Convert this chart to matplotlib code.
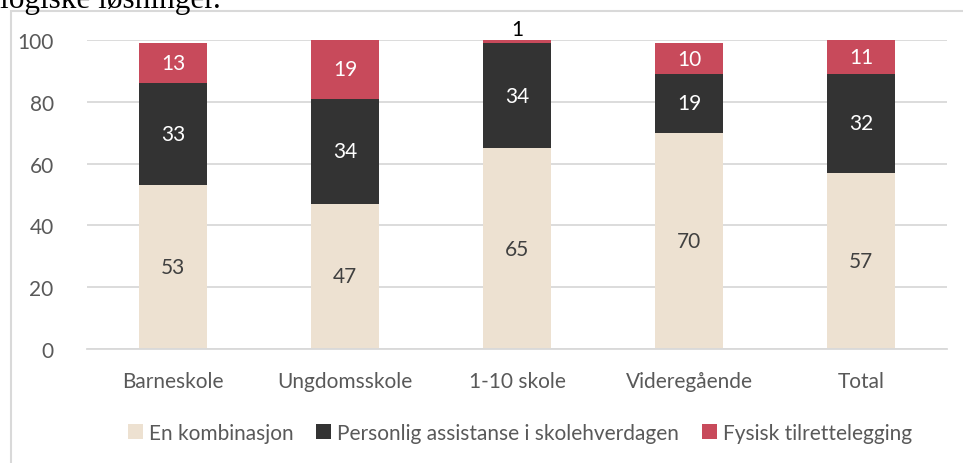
import numpy as np
import matplotlib.pyplot as plt
from matplotlib.patches import Rectangle

categories = ['Barneskole', 'Ungdomsskole', '1-10 skole', 'Videregående', 'Total']
kombinasjon = [53, 47, 65, 70, 57]
assistanse = [33, 34, 34, 19, 32]
fysisk = [13, 19, 1, 10, 11]

series_names = ['En kombinasjon', 'Personlig assistanse i skolehverdagen', 'Fysisk tilrettelegging']
colors = ['#EDE1D1', '#333333', '#C84A5B']
label_colors = ['#404040', 'white', 'white']

plt.rcParams['font.family'] = ['Lato', 'DejaVu Sans']

fig = plt.figure(figsize=(9.63, 4.64), dpi=100)
ax = fig.add_axes([87 / 963, 1 - 350 / 464, (947 - 87) / 963, (350 - 41) / 464])

# outer chart frame, cut by the image edges
fig.patches.append(Rectangle((10.5 / 963, -0.1), 1.2, 1 - 12 / 464 + 0.1,
                             transform=fig.transFigure, fill=False,
                             edgecolor='#D9D9D9', linewidth=1.5))
# text from the document above the chart (cut off like in the original)
fig.text(0.0, 1 - 8 / 464, 'logiske løsninger.', family='Liberation Serif',
         fontsize=22.5, color='black', ha='left', va='baseline')

x = np.arange(len(categories))
w = 0.4
bottom = np.zeros(len(categories))
for vals, name, col, lc in zip([kombinasjon, assistanse, fysisk], series_names, colors, label_colors):
    vals = np.array(vals)
    ax.bar(x, vals, w, bottom=bottom, color=col, label=name, zorder=2)
    for xi, b, v in zip(x, bottom, vals):
        if v >= 5:
            ax.text(xi, b + v / 2, str(v), ha='center', va='center',
                    color=lc, fontsize=15)
        else:
            ax.text(xi, b + v + 0.3, str(v), ha='center', va='bottom',
                    color='black', fontsize=15)
    bottom = bottom + vals

ax.set_xlim(-0.5, len(categories) - 0.5)
ax.set_ylim(0, 100)
ax.set_yticks(range(0, 101, 20))
ax.yaxis.grid(True, color='#D9D9D9', linewidth=1.3, zorder=0)
ax.set_axisbelow(True)
for s in ['top', 'right', 'left']:
    ax.spines[s].set_visible(False)
ax.spines['bottom'].set_color('#D9D9D9')
ax.spines['bottom'].set_linewidth(1.3)
ax.tick_params(axis='both', length=0, labelsize=15, colors='#595959')
ax.tick_params(axis='y', pad=24)
ax.tick_params(axis='x', pad=16)
ax.set_xticks(x)
ax.set_xticklabels(categories)

fig.legend(loc='center', bbox_to_anchor=(520 / 963, 1 - 434 / 464), ncol=3,
           frameon=False, fontsize=15, handlelength=0.7, handleheight=0.7,
           handletextpad=0.3, columnspacing=1.1, labelcolor='#595959')

fig.savefig('out.png', dpi=100)
